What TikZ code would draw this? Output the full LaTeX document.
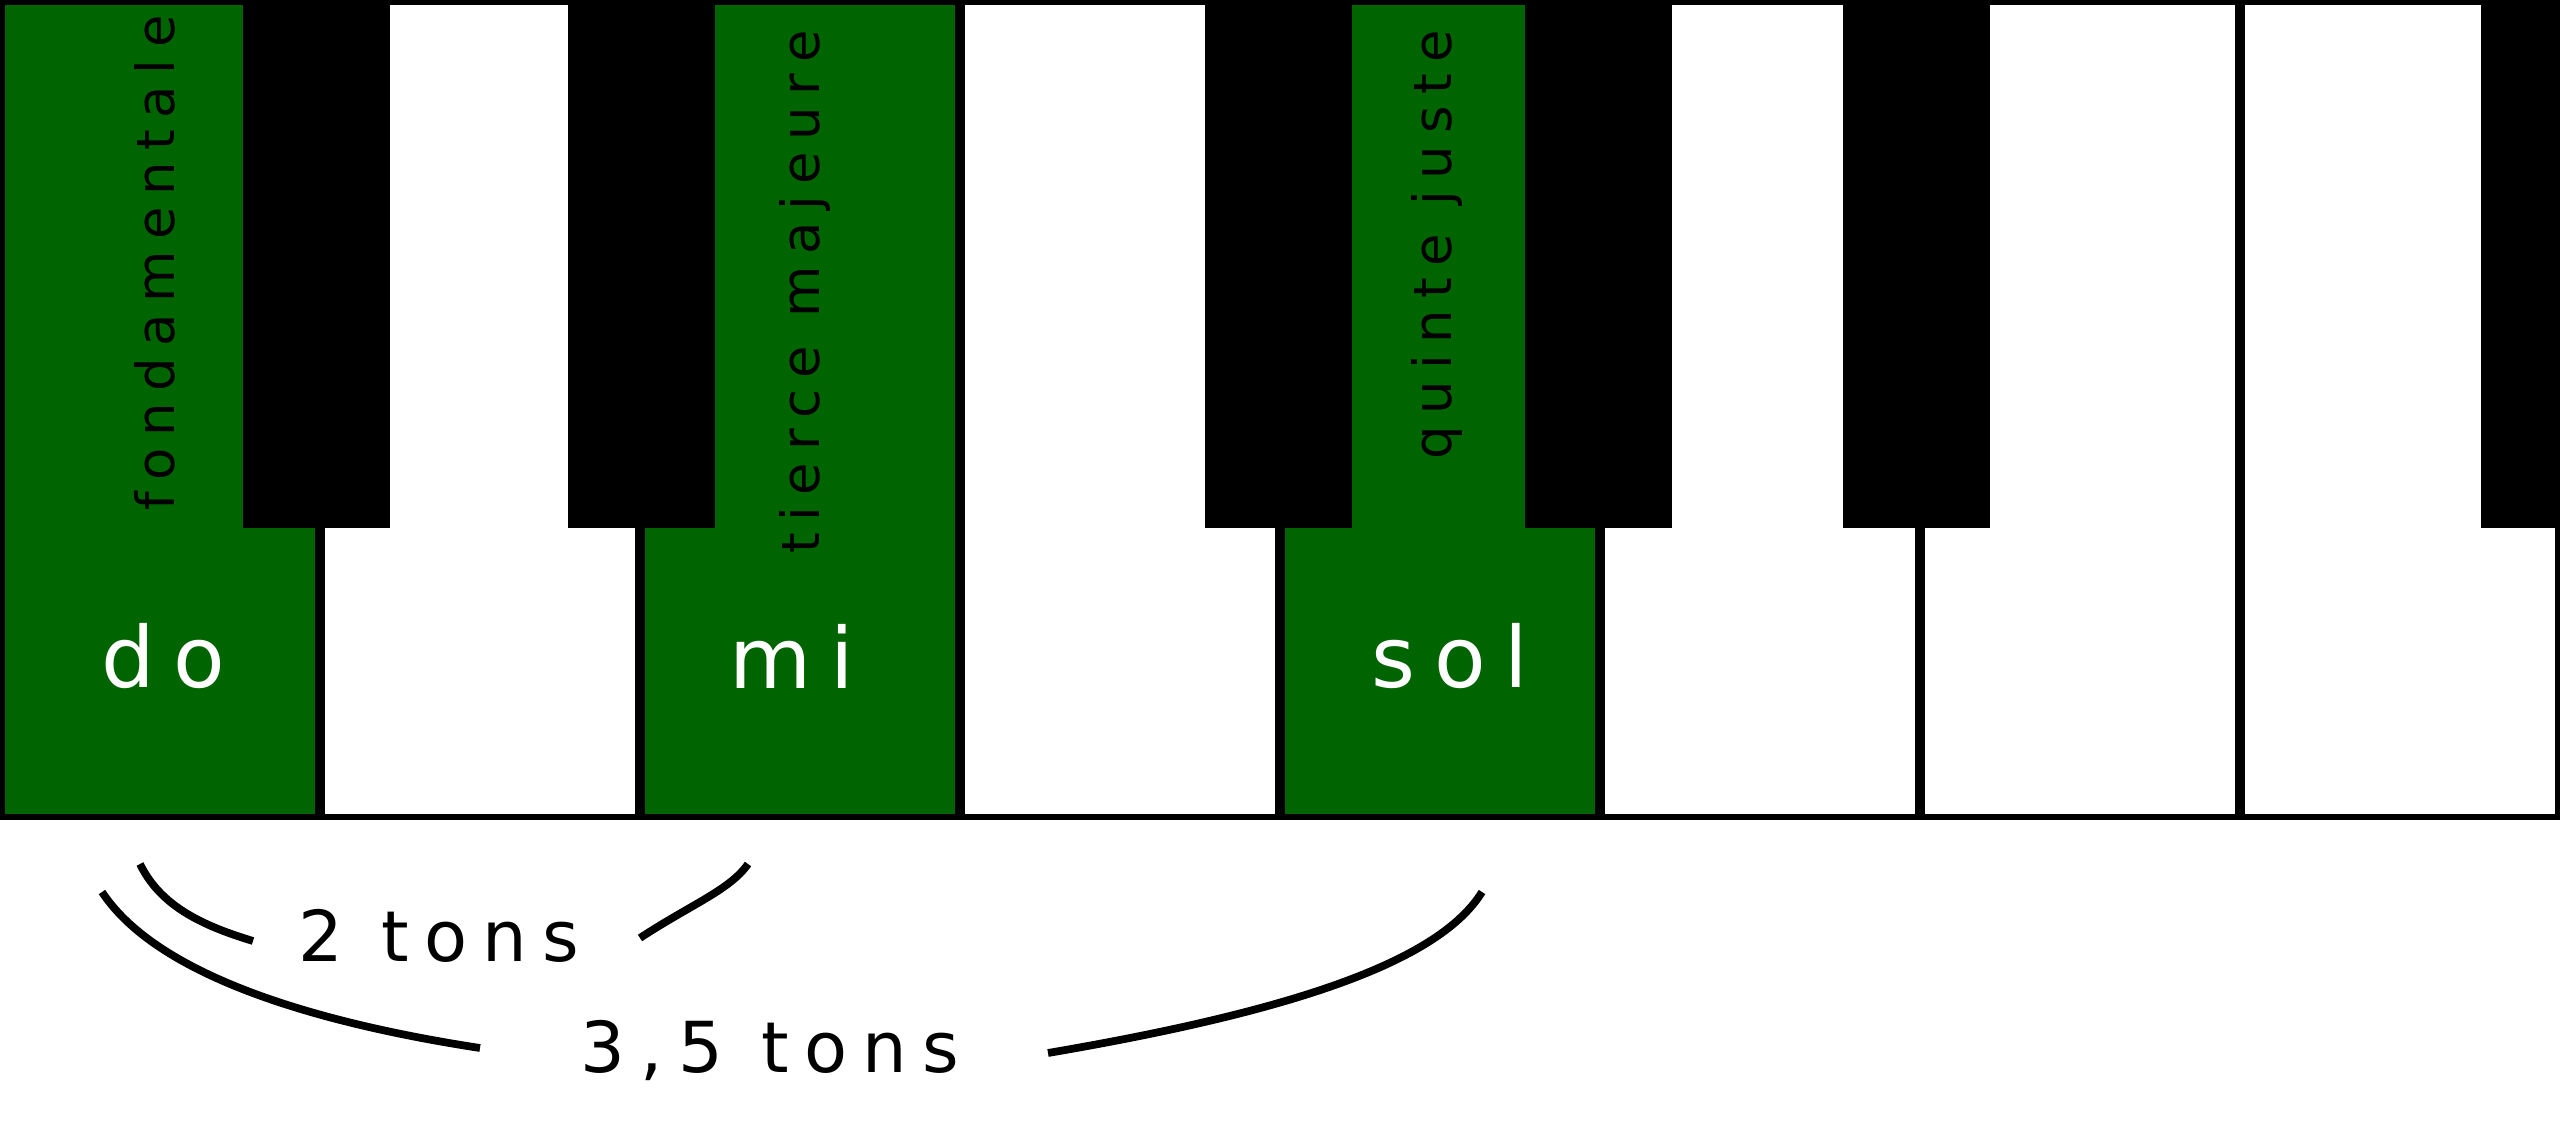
\documentclass[tikz,border=0pt]{standalone}
\usepackage{fontspec}
\setmainfont{DejaVu Sans}
\usetikzlibrary{positioning}
\definecolor{vert}{HTML}{006400}
\newfontfamily\espace[LetterSpace=22]{DejaVu Sans}

\begin{document}
\begin{tikzpicture}[
        x = 0.01cm, y = -0.01cm,
        blanche/.style = {
                draw,
                line width = 1.6pt,
                fill = #1
            },
            blanche/.default = white,
        noire/.style = {
                draw,
                line width = 1pt,
                fill = black
            },
        note/.style = {text = white, font = \espace\fontsize{24}{24}\selectfont},
        role/.style = {rotate = 90, font = \espace\fontsize{15}{15}\selectfont},
        ecart/.style = {font = \espace\fontsize{20}{20}\selectfont},
        arc/.style = {line width = 2.2pt}
    ]
        \useasboundingbox (0,0) rectangle (2560,1131);
        % touches blanches
        \foreach \i/\c in {0/vert, 1/white, 2/vert, 3/white, 4/vert, 5/white, 6/white, 7/white}
            \draw[blanche=\c] (\i*320+2,2) rectangle (\i*320+318,817);
        % touches noires
        \foreach \a in {245, 570, 1207, 1527, 1845}
            \draw[noire] (\a,0) rectangle (\a+143,526);
        \draw[noire] (2483,0) rectangle (2560,526);

        \node[note] (do) at (163,656) {do};
        \node[note] (mi) at (792,656) {mi};
        \node[note] (sol) at (1450,656) {sol};

        \node[role] (fond) at (155,263) {fondamentale};
        \node[role] (tierce) at (805,292) {tierce majeure};
        \node[role] (quinte) at (1437,245) {quinte juste};

        \node[ecart] (deux) at (439,936) {2 tons};
        \node[ecart] (trois) at (770,1050) {3,5 tons};

        \coordinate (a1) at (140,864);
        \coordinate (a2) at (748,864);
        \coordinate (a3) at (253,941);
        \coordinate (a4) at (640,938);
        \coordinate (b1) at (102,892);
        \coordinate (b2) at (1482,892);
        \coordinate (b3) at (480,1048);
        \coordinate (b4) at (1048,1053);

        \draw[arc] (a1) .. controls (160,905) and (200,925) .. (a3);
        \draw[arc] (a4) .. controls (690,905) and (730,890) .. (a2);
        \draw[arc] (b1) .. controls (160,980) and (330,1025) .. (b3);
        \draw[arc] (b4) .. controls (1300,1010) and (1440,960) .. (b2);
    \end{tikzpicture}
\end{document}
